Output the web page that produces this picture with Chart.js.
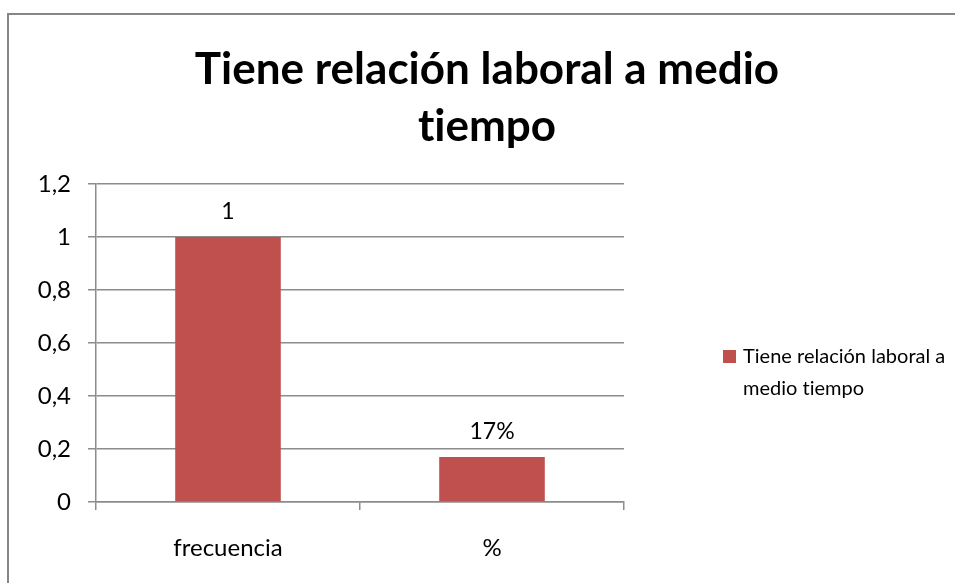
<!DOCTYPE html>
<html>
<head>
<meta charset="utf-8">
<script src="https://cdn.jsdelivr.net/npm/chart.js@4/dist/chart.umd.min.js"></script>
<style>
  html, body { margin: 0; padding: 0; background: #fff; overflow: hidden; }
  #wrap { width: 955px; height: 583px; position: relative; }
</style>
</head>
<body>
<div id="wrap"><canvas id="chart" width="955" height="583"></canvas></div>
<script>
// data
const categories = ['frecuencia', '%'];
const values = [1, 0.17];
const valueLabels = ['1', '17%'];
const titleLines = ['Tiene relación laboral a medio', 'tiempo'];
const legendLines = ['Tiene relación laboral a', 'medio tiempo'];

const barColor = '#C0504D';
const gridColor = '#8C8C8C';
const fontFamily = 'Lato, "Open Sans", sans-serif';

// outer frame, title, value labels and legend
const decorations = {
    id: 'decorations',
    beforeDraw(chart) {
        const ctx = chart.ctx;
        ctx.save();
        ctx.fillStyle = '#fff';
        ctx.fillRect(0, 0, chart.width, chart.height);
        ctx.strokeStyle = '#868686';
        ctx.lineWidth = 2;
        ctx.beginPath();
        ctx.moveTo(8, chart.height);
        ctx.lineTo(8, 14);
        ctx.lineTo(chart.width, 14);
        ctx.stroke();
        ctx.restore();
    },
    afterDraw(chart) {
        const ctx = chart.ctx;
        ctx.save();
        // tiny spacing keeps Lato from joining "ti" into a ligature
        ctx.letterSpacing = '0.01px';
        ctx.fillStyle = '#000';
        ctx.textAlign = 'center';
        ctx.textBaseline = 'middle';
        ctx.font = 'bold 44px ' + fontFamily;
        ctx.fillText(titleLines[0], 487, 70);
        ctx.fillText(titleLines[1], 487, 127);

        // value labels above bars
        ctx.font = '23px ' + fontFamily;
        const meta = chart.getDatasetMeta(0);
        meta.data.forEach((bar, i) => {
            ctx.fillText(valueLabels[i], bar.x, bar.y - 25);
        });

        // legend
        ctx.fillStyle = barColor;
        ctx.fillRect(723, 350, 13, 13);
        ctx.fillStyle = '#000';
        ctx.textAlign = 'left';
        ctx.font = '20px ' + fontFamily;
        ctx.fillText(legendLines[0], 743, 357);
        ctx.fillText(legendLines[1], 743, 389);
        ctx.restore();
    }
};

new Chart(document.getElementById('chart'), {
    type: 'bar',
    data: {
        labels: categories,
        datasets: [{
            label: 'Tiene relación laboral a medio tiempo',
            data: values,
            backgroundColor: barColor,
            barPercentage: 0.8,
            categoryPercentage: 0.5
        }]
    },
    options: {
        responsive: false,
        animation: false,
        layout: { padding: { top: 184, right: 331, left: 0, bottom: 0 } },
        plugins: {
            legend: { display: false },
            title: { display: false },
            tooltip: { enabled: false }
        },
        scales: {
            y: {
                min: 0,
                max: 1.2,
                ticks: {
                    stepSize: 0.2,
                    color: '#000',
                    padding: 17,
                    font: { family: fontFamily, size: 24 },
                    callback: v => String(Math.round(v * 10) / 10).replace('.', ',')
                },
                grid: { color: gridColor, lineWidth: 1.5, tickLength: 8 },
                border: { color: gridColor, width: 1.5 },
                afterFit(scale) { scale.width = 96; }
            },
            x: {
                ticks: {
                    color: '#000',
                    padding: 24,
                    font: { family: fontFamily, size: 24 }
                },
                grid: { display: true, drawOnChartArea: false, offset: true, color: gridColor, lineWidth: 1.5, tickLength: 8 },
                border: { color: gridColor, width: 1.5 },
                afterFit(scale) { scale.height = 81; }
            }
        }
    },
    plugins: [decorations]
});
</script>
</body>
</html>
